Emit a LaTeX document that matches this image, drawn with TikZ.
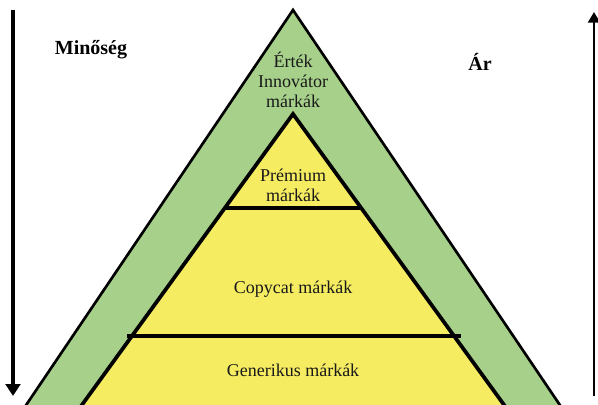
\documentclass[tikz,border=0pt]{standalone}
\usepackage{fontspec}
\setmainfont{Liberation Serif}
\usetikzlibrary{arrows.meta,positioning}
\definecolor{bandgreen}{HTML}{A7D18B}
\definecolor{coreyellow}{HTML}{F5EC62}

\begin{document}
\begin{tikzpicture}[x=0.75pt,y=-0.75pt,
  band/.style={fill=bandgreen,draw=black,line width=2pt},
  core/.style={fill=coreyellow,draw=black,line width=2.8pt},
  divider/.style={draw=black,line width=2.6pt},
  tier/.style={font=\fontsize{13.5}{15}\selectfont,align=center,text=black!90},
  axislabel/.style={font=\fontsize{15}{18}\selectfont\bfseries},
  axisarrow/.style={-{Triangle[width=11pt,length=9pt]},line width=3pt},
  pricearrow/.style={-{Triangle[width=9pt,length=8pt]},line width=1.8pt},
]
\useasboundingbox (0,0) rectangle (598,404);

% Pyramid (cut off at the bottom edge)
\begin{scope}
\clip (0,0) rectangle (598,404);
\draw[band] (293,10) -- (16,420) -- (570,420) -- cycle;
\draw[core] (293,114) -- (71,420) -- (515,420) -- cycle;
\end{scope}

% Tier dividers
\coordinate (premL) at (224,208);
\coordinate (premR) at (362,208);
\coordinate (copyL) at (127,336);
\coordinate (copyR) at (461,336);
\draw[divider] (premL) -- (premR);
\draw[divider] (copyL) -- (copyR);

% Tier labels
\node[tier] (value) at (293,80) {Érték\\Innovátor\\márkák};
\node[tier] (premium) at (293,185) {Prémium\\márkák};
\node[tier] (copycat) at (293,289) {Copycat márkák};
\node[tier] (generic) at (293,370) {Generikus márkák};

% Axes
\node[axislabel] (quality) at (91,50) {Minőség};
\node[axislabel] (price) at (480,62) {Ár};
\coordinate (qualTop) at (13,10);
\coordinate (qualBot) at (13,396);
\coordinate (priceBot) at (594,396);
\coordinate (priceTop) at (594,12);
\draw[axisarrow] (qualTop) -- (qualBot);
\draw[pricearrow] (priceBot) -- (priceTop);

\end{tikzpicture}
\end{document}
